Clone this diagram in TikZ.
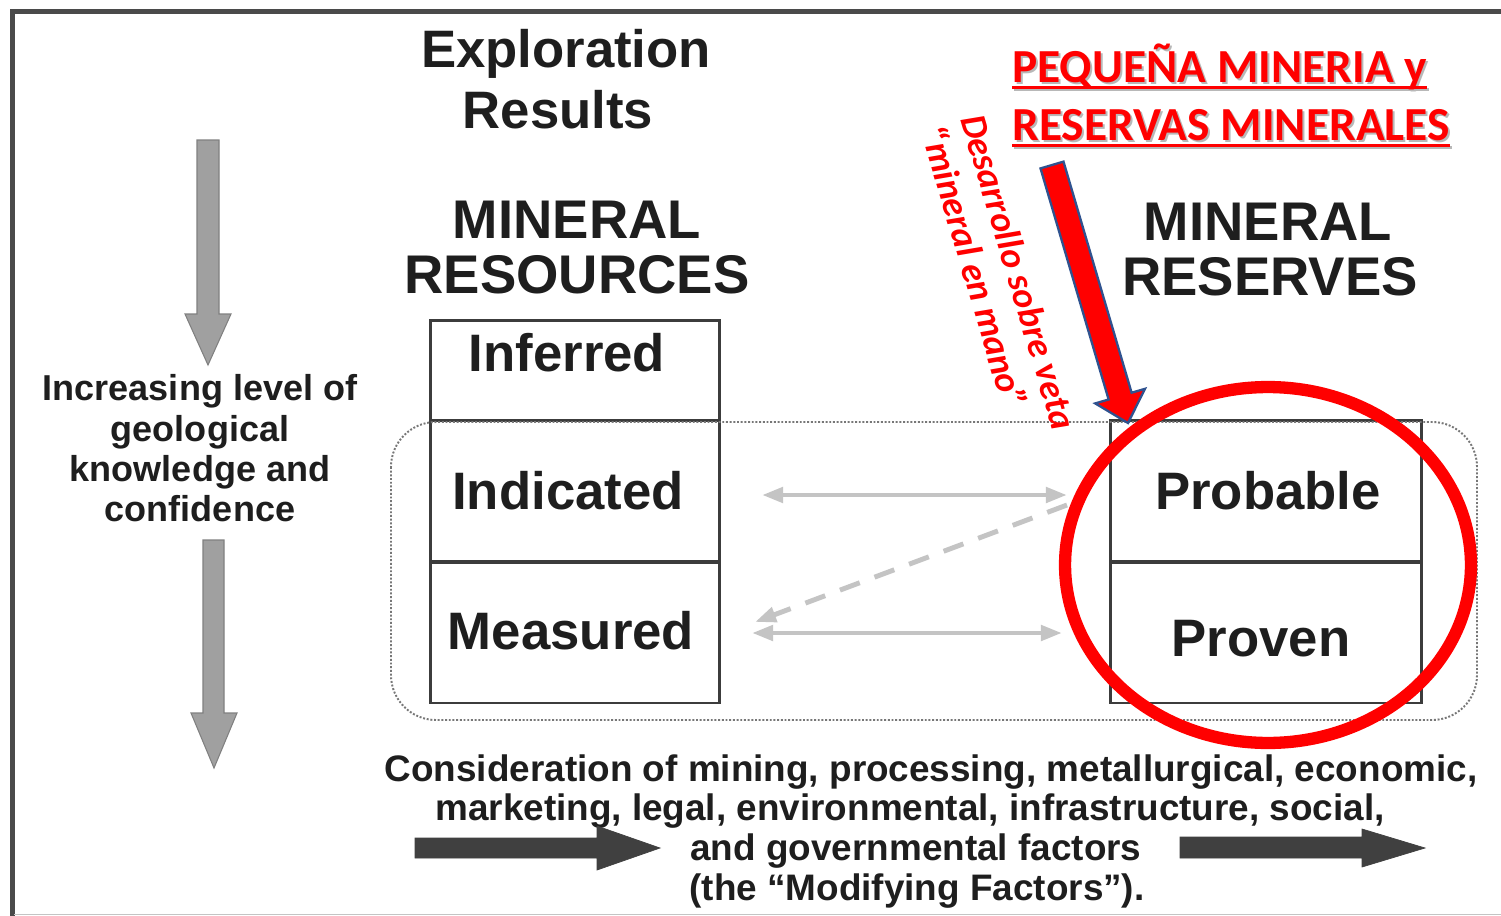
\documentclass[tikz,border=0pt]{standalone}
\usepackage{fontspec}
\setmainfont{Liberation Sans}
\newfontfamily\calib{Carlito}
\usetikzlibrary{arrows.meta}
\definecolor{txt}{HTML}{1E1E1E}
\definecolor{boxc}{HTML}{3C3C3C}
\definecolor{lgray}{HTML}{C4C4C4}
\definecolor{mgray}{HTML}{A0A0A0}
\definecolor{mgrayd}{HTML}{808080}
\definecolor{dgray}{HTML}{404040}
\definecolor{framec}{HTML}{4A4A4A}
\definecolor{arrowedge}{HTML}{2F528F}
\definecolor{shadowc}{HTML}{B8B8B8}
\definecolor{dotc}{HTML}{777777}
\begin{document}
\begin{tikzpicture}[x=0.02cm,y=-0.02cm,
  title/.style={font=\bfseries\fontsize{30}{32}\selectfont, text=txt, inner sep=0pt, anchor=base},
  big/.style={font=\bfseries\fontsize{31}{33}\selectfont, text=txt, inner sep=0pt, anchor=base},
  boxlbl/.style={font=\bfseries\fontsize{30}{32}\selectfont, text=txt, inner sep=0pt, anchor=base},
  side/.style={font=\bfseries\fontsize{20.5}{22}\selectfont, text=txt, inner sep=0pt, anchor=base},
  foot/.style={font=\bfseries\fontsize{21}{23}\selectfont, text=txt, inner sep=0pt, anchor=base},
  redt/.style={font=\calib\bfseries\fontsize{27}{29}\selectfont, text=red, inner sep=0pt, anchor=base west},
  redsh/.style={redt, text=shadowc},
  rott/.style={font=\calib\bfseries\itshape\fontsize{21}{23}\selectfont, text=red, inner sep=0pt, rotate=-73.5},
  catbox/.style={draw=boxc, line width=1.7pt, inner sep=0pt, outer sep=0pt},
  garrow/.style={draw=lgray, line width=2.8pt},
  vbar/.style={fill=mgray, draw=mgrayd, line width=0.6pt},
  hbar/.style={fill=dgray, draw=dgray, line width=0.4pt},
  redarrow/.style={fill=red, draw=arrowedge, line width=1.3pt, line join=miter}
]
\useasboundingbox (0,0) rectangle (1501,916);
\fill[white] (0,0) rectangle (1501,916);

% frame
\draw[framec, line width=2.3pt] (12.5,916) -- (12.5,11.5) -- (1501,11.5);
\draw[lgray, line width=1pt] (14,914.5) -- (1501,914.5);

% titles
\node[title] (ex1) at (566,67) {Exploration};
\node[title] (ex2) at (558,128) {Results};
\node[big] (mr1) at (577,238) {MINERAL};
\node[big] (mr2) at (577,293) {RESOURCES};
\node[big] (mv1) at (1268,240) {MINERAL};
\node[big] (mv2) at (1270,295) {RESERVES};

% boxes
\node[catbox, minimum width=5.8cm, minimum height=2cm] (inf) at (575,370) {};
\node[catbox, minimum width=5.8cm, minimum height=2.84cm] (ind) at (575,491) {};
\node[catbox, minimum width=5.8cm, minimum height=2.82cm] (mea) at (575,632.5) {};
\node[catbox, minimum width=6.24cm, minimum height=2.84cm] (pro) at (1266,491) {};
\node[catbox, minimum width=6.24cm, minimum height=2.82cm] (prv) at (1266,632.5) {};
\node[boxlbl] (inft) at (567,371) {Inferred};
\node[boxlbl] (indt) at (568,509) {Indicated};
\node[boxlbl] (meat) at (571,649) {Measured};
\node[boxlbl] (prot) at (1268,509) {Probable};
\node[boxlbl] (prvt) at (1261,656) {Proven};

% dotted group
\draw[dotc, densely dotted, line width=1.1pt, rounded corners=0.9cm] (391,422) rectangle (1477,720);

% gray connectors
\coordinate (a1) at (762,495);
\coordinate (a2) at (1067,495);
\coordinate (b1) at (752,633);
\coordinate (b2) at (1062,633);
\coordinate (c1) at (1067,505);
\coordinate (c2) at (755,622);
\draw[garrow, {Triangle[length=12pt,width=8.5pt]}-{Triangle[length=12pt,width=8.5pt]}] (a1) -- (a2);
\draw[garrow, {Triangle[length=12pt,width=8.5pt]}-{Triangle[length=12pt,width=8.5pt]}] (b1) -- (b2);
\draw[garrow, dash pattern=on 12pt off 9pt, -{Triangle[length=12pt,width=8.5pt]}] (c1) -- (c2);

% left vertical arrows
\draw[vbar] (197,140) -- (219,140) -- (219,314) -- (231,314) -- (208,365) -- (185,314) -- (197,314) -- cycle;
\draw[vbar] (203,540) -- (224,540) -- (224,713) -- (237,713) -- (214,768) -- (191,713) -- (203,713) -- cycle;

% left text
\node[side] (s1) at (200,400) {Increasing level of};
\node[side] (s2) at (200,441) {geological};
\node[side] (s3) at (200,481) {knowledge and};
\node[side] (s4) at (200,521) {confidence};

% bottom text
\node[foot] (f1) at (931,781) {Consideration of mining, processing, metallurgical, economic,};
\node[foot] (f2) at (910,820) {marketing, legal, environmental, infrastructure, social,};
\node[foot] (f3) at (916,860) {and governmental factors};
\node[foot] (f4) at (917,900) {(the “Modifying Factors”).};

% bottom arrows
\draw[hbar] (415,838) -- (597,838) -- (597,826) -- (660,848) -- (597,870) -- (597,858) -- (415,858) -- cycle;
\draw[hbar] (1180,837) -- (1362,837) -- (1362,829) -- (1425,848) -- (1362,867) -- (1362,858) -- (1180,858) -- cycle;

% red ellipse
\draw[red, line width=7pt] (1268,565) ellipse [x radius=4.06cm, y radius=3.56cm];

% red title with shadow
\node[redsh] (t1s) at (1014,84) {PEQUEÑA MINERIA y};
\node[redsh] (t2s) at (1014,142) {RESERVAS MINERALES};
\draw[shadowc, line width=1.7pt] ([yshift=-3.4pt]t1s.base west) -- ([yshift=-3.4pt]t1s.base east);
\draw[shadowc, line width=1.7pt] ([yshift=-3.4pt]t2s.base west) -- ([yshift=-3.4pt]t2s.base east);
\node[redt] (t1) at (1012,82) {PEQUEÑA MINERIA y};
\node[redt] (t2) at (1012,140) {RESERVAS MINERALES};
\draw[red, line width=1.7pt] ([yshift=-3.4pt]t1.base west) -- ([yshift=-3.4pt]t1.base east);
\draw[red, line width=1.7pt] ([yshift=-3.4pt]t2.base west) -- ([yshift=-3.4pt]t2.base east);

% rotated text
\node[rott] (d1) at (1019,272) {Desarrollo sobre veta};
\node[rott] (d2) at (975,267) {“mineral en mano”};

% red arrow
\draw[redarrow] (1063.5,161.6) -- (1131.6,392.7) -- (1145,388.8) -- (1128,423) -- (1095.2,403.4) -- (1108.6,399.5) -- (1040.5,168.4) -- cycle;
\end{tikzpicture}
\end{document}
